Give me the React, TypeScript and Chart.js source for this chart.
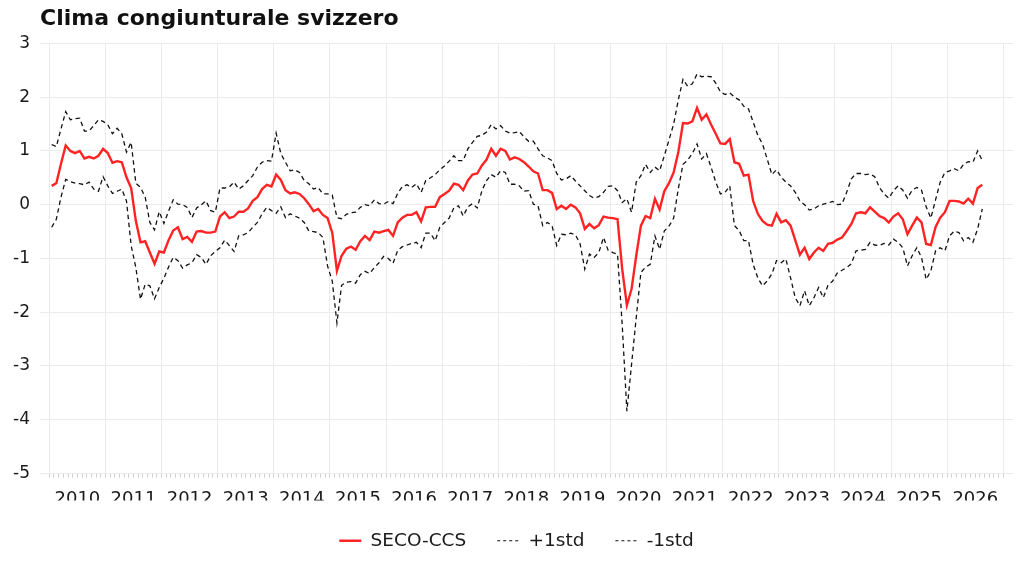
import React, { useEffect, useRef } from 'react';
import { Chart, registerables } from 'chart.js';

Chart.register(...registerables);

const FONT = "'DejaVu Sans', sans-serif";
const START_YEAR = 2010;

// monthly values, Jan 2010 .. Aug 2026
const secoCcs = [
  0.35, 0.40, 0.76, 1.10, 1.00, 0.96, 1.00, 0.86, 0.89, 0.86, 0.91, 1.04, // 2010
  0.96, 0.78, 0.81, 0.79, 0.51, 0.31, -0.30, -0.70, -0.68, -0.89, -1.10, -0.87, // 2011
  -0.89, -0.66, -0.48, -0.42, -0.64, -0.60, -0.69, -0.50, -0.49, -0.52, -0.52, -0.50, // 2012
  -0.22, -0.14, -0.25, -0.22, -0.13, -0.13, -0.07, 0.07, 0.14, 0.29, 0.37, 0.34, // 2013
  0.56, 0.46, 0.27, 0.21, 0.23, 0.20, 0.12, 0.01, -0.12, -0.08, -0.19, -0.25, // 2014
  -0.52, -1.23, -0.95, -0.82, -0.78, -0.84, -0.68, -0.58, -0.66, -0.50, -0.52, -0.49, // 2015
  -0.47, -0.58, -0.33, -0.24, -0.19, -0.19, -0.14, -0.31, -0.05, -0.04, -0.04, 0.14, // 2016
  0.20, 0.26, 0.39, 0.37, 0.27, 0.45, 0.56, 0.58, 0.73, 0.84, 1.04, 0.91, // 2017
  1.04, 1.00, 0.84, 0.88, 0.85, 0.79, 0.71, 0.62, 0.58, 0.27, 0.27, 0.22, // 2018
  -0.08, -0.02, -0.08, 0.00, -0.05, -0.16, -0.45, -0.36, -0.44, -0.38, -0.22, -0.24, // 2019
  -0.25, -0.27, -1.20, -1.87, -1.57, -0.95, -0.39, -0.21, -0.25, 0.11, -0.09, 0.25, // 2020
  0.40, 0.60, 0.98, 1.52, 1.51, 1.55, 1.80, 1.58, 1.68, 1.49, 1.32, 1.14, // 2021
  1.13, 1.22, 0.79, 0.76, 0.54, 0.56, 0.07, -0.17, -0.30, -0.37, -0.39, -0.17, // 2022
  -0.33, -0.29, -0.39, -0.66, -0.93, -0.80, -1.01, -0.89, -0.80, -0.86, -0.73, -0.71, // 2023
  -0.65, -0.61, -0.49, -0.36, -0.16, -0.14, -0.16, -0.05, -0.13, -0.21, -0.25, -0.33, // 2024
  -0.22, -0.16, -0.27, -0.55, -0.39, -0.24, -0.33, -0.73, -0.75, -0.42, -0.24, -0.14, // 2025
  0.07, 0.07, 0.06, 0.02, 0.11, 0.02, 0.31, 0.37, // 2026
];

const plusStd = [
  1.12, 1.08, 1.41, 1.73, 1.58, 1.60, 1.61, 1.37, 1.37, 1.47, 1.58, 1.55,
  1.49, 1.32, 1.42, 1.32, 0.98, 1.16, 0.40, 0.32, 0.14, -0.33, -0.47, -0.13,
  -0.35, -0.12, 0.09, 0.01, 0.00, -0.05, -0.24, -0.06, 0.00, 0.07, -0.11, -0.14,
  0.31, 0.31, 0.33, 0.42, 0.29, 0.35, 0.45, 0.54, 0.70, 0.79, 0.82, 0.81,
  1.33, 0.95, 0.79, 0.63, 0.65, 0.60, 0.45, 0.39, 0.29, 0.32, 0.20, 0.20,
  0.18, -0.24, -0.26, -0.18, -0.15, -0.14, -0.05, 0.00, -0.02, 0.09, 0.02, 0.01,
  0.06, 0.02, 0.21, 0.34, 0.37, 0.32, 0.39, 0.23, 0.45, 0.50, 0.56, 0.65,
  0.72, 0.81, 0.91, 0.82, 0.82, 1.04, 1.16, 1.27, 1.29, 1.35, 1.49, 1.41,
  1.47, 1.37, 1.33, 1.34, 1.36, 1.26, 1.18, 1.18, 1.04, 0.91, 0.87, 0.82,
  0.58, 0.46, 0.48, 0.54, 0.44, 0.35, 0.26, 0.17, 0.12, 0.15, 0.23, 0.34,
  0.35, 0.26, 0.04, 0.11, -0.14, 0.42, 0.54, 0.75, 0.60, 0.70, 0.63, 0.91,
  1.20, 1.50, 1.95, 2.33, 2.20, 2.25, 2.43, 2.38, 2.39, 2.38, 2.26, 2.10,
  2.05, 2.08, 2.00, 1.95, 1.83, 1.78, 1.54, 1.29, 1.13, 0.85, 0.56, 0.65,
  0.51, 0.42, 0.35, 0.23, 0.07, 0.00, -0.10, -0.08, -0.02, 0.01, 0.03, 0.06,
  0.00, 0.01, 0.23, 0.48, 0.58, 0.58, 0.56, 0.57, 0.52, 0.32, 0.20, 0.12,
  0.26, 0.35, 0.27, 0.12, 0.27, 0.32, 0.27, -0.04, -0.25, 0.09, 0.42, 0.60,
  0.63, 0.67, 0.63, 0.75, 0.80, 0.79, 1.00, 0.82,
];

const minusStd = [
  -0.42, -0.27, 0.14, 0.47, 0.43, 0.40, 0.39, 0.37, 0.42, 0.29, 0.25, 0.52,
  0.35, 0.21, 0.25, 0.29, 0.07, -0.76, -1.17, -1.76, -1.48, -1.51, -1.75, -1.54,
  -1.37, -1.16, -0.98, -1.04, -1.18, -1.12, -1.08, -0.93, -0.98, -1.11, -0.95, -0.87,
  -0.80, -0.66, -0.76, -0.87, -0.58, -0.56, -0.52, -0.42, -0.33, -0.17, -0.05, -0.11,
  -0.16, -0.04, -0.24, -0.17, -0.21, -0.25, -0.33, -0.49, -0.50, -0.52, -0.61, -1.14,
  -1.42, -2.20, -1.50, -1.44, -1.43, -1.46, -1.30, -1.24, -1.28, -1.17, -1.08, -0.96,
  -1.00, -1.09, -0.85, -0.78, -0.75, -0.72, -0.70, -0.80, -0.53, -0.53, -0.67, -0.42,
  -0.33, -0.25, -0.06, -0.02, -0.21, -0.04, 0.02, -0.06, 0.26, 0.45, 0.56, 0.51,
  0.63, 0.60, 0.38, 0.38, 0.35, 0.25, 0.26, 0.01, -0.02, -0.39, -0.33, -0.39,
  -0.76, -0.55, -0.56, -0.53, -0.56, -0.73, -1.20, -0.92, -0.98, -0.89, -0.61, -0.85,
  -0.89, -0.92, -2.23, -3.84, -2.97, -2.10, -1.26, -1.16, -1.11, -0.58, -0.83, -0.49,
  -0.40, -0.25, 0.30, 0.75, 0.83, 0.95, 1.13, 0.85, 0.95, 0.70, 0.42, 0.20,
  0.23, 0.35, -0.39, -0.48, -0.67, -0.67, -1.11, -1.36, -1.51, -1.42, -1.29, -1.04,
  -1.08, -1.01, -1.36, -1.73, -1.88, -1.60, -1.88, -1.73, -1.54, -1.73, -1.50, -1.42,
  -1.27, -1.22, -1.17, -1.10, -0.86, -0.85, -0.83, -0.70, -0.75, -0.76, -0.72, -0.75,
  -0.64, -0.70, -0.80, -1.14, -0.95, -0.80, -0.98, -1.39, -1.23, -0.86, -0.80, -0.86,
  -0.58, -0.49, -0.52, -0.67, -0.61, -0.70, -0.45, -0.08,
];

const yearLabels = [
  '2010', '2011', '2012', '2013', '2014', '2015', '2016', '2017', '2018',
  '2019', '2020', '2021', '2022', '2023', '2024', '2025', '2026',
];

// each point sits in the middle of its month
const monthX = secoCcs.map((_, i) => START_YEAR + (i + 0.5) / 12);
// monthly tick marks, Jan 2010 .. Jan 2027
const monthTicks = Array.from({ length: yearLabels.length * 12 + 1 }, (_, k) => START_YEAR + k / 12);

const toPoints = (values: number[]) => values.map((y, i) => ({ x: monthX[i], y }));
const monthIndex = (v: number) => Math.round((v - START_YEAR) * 12);

const DASH = [4.5, 3.5];

// nudge the legend a bit to the right, like in the original
const legendShift = {
  id: 'legendShift',
  afterLayout(chart: any) {
    if (chart.legend) {
      chart.legend.left += 10;
      chart.legend.right += 10;
    }
  },
};

const App: React.FC = () => {
  const chartRef = useRef<HTMLCanvasElement>(null);
  const chartInstance = useRef<Chart | null>(null);

  useEffect(() => {
    if (!chartRef.current) return;
    if (chartInstance.current) chartInstance.current.destroy();

    chartInstance.current = new Chart(chartRef.current, {
      type: 'line',
      data: {
        datasets: [
          {
            label: 'SECO-CCS',
            data: toPoints(secoCcs),
            borderColor: 'rgb(255, 35, 35)',
            backgroundColor: 'rgb(255, 35, 35)',
            borderWidth: 2.4,
            pointRadius: 0,
            tension: 0,
          },
          {
            label: '+1std',
            data: toPoints(plusStd),
            borderColor: '#111111',
            backgroundColor: '#111111',
            borderWidth: 1.3,
            borderDash: DASH,
            pointRadius: 0,
            tension: 0,
          },
          {
            label: '-1std',
            data: toPoints(minusStd),
            borderColor: '#111111',
            backgroundColor: '#111111',
            borderWidth: 1.3,
            borderDash: DASH,
            pointRadius: 0,
            tension: 0,
          },
        ],
      },
      plugins: [legendShift],
      options: {
        responsive: true,
        maintainAspectRatio: false,
        animation: false,
        layout: { padding: { left: 0, right: 11, top: 0, bottom: 16 } },
        plugins: {
          title: {
            display: true,
            text: 'Clima congiunturale svizzero',
            align: 'start',
            fullSize: false,
            color: '#111111',
            font: { family: FONT, size: 22, weight: 'bold' },
            padding: { top: 6, bottom: 11 },
          },
          legend: {
            position: 'bottom',
            labels: {
              usePointStyle: true,
              pointStyle: 'line',
              pointStyleWidth: 22,
              padding: 31,
              color: '#1a1a1a',
              font: { family: FONT, size: 18.5 },
              generateLabels: (chart: any) =>
                Chart.defaults.plugins.legend.labels.generateLabels(chart).map((item: any) => {
                  const ds: any = chart.data.datasets[item.datasetIndex];
                  return {
                    ...item,
                    pointStyle: 'line',
                    strokeStyle: ds.borderColor,
                    lineWidth: ds.borderDash ? 1 : 2.4,
                    lineDash: ds.borderDash ? [3, 3] : [],
                  };
                }),
            },
          },
          tooltip: { enabled: false },
        },
        scales: {
          x: {
            type: 'linear',
            min: 2009.834,
            max: 2027.172,
            afterBuildTicks: (scale: any) => {
              scale.ticks = monthTicks.map((value) => ({ value }));
            },
            afterFit: (scale: any) => {
              scale.height = 27;
            },
            border: { display: false },
            grid: {
              color: (ctx: any) =>
                ctx.tick && monthIndex(ctx.tick.value) % 12 === 0 ? '#ebebeb' : 'rgba(0,0,0,0)',
              lineWidth: 1,
              drawTicks: true,
              tickLength: 4,
              tickColor: '#cfcfcf',
              tickWidth: 1,
            },
            ticks: {
              autoSkip: false,
              maxRotation: 0,
              minRotation: 0,
              padding: 11,
              color: '#1a1a1a',
              font: { family: FONT, size: 18 },
              callback: (value: any) => {
                const k = monthIndex(Number(value));
                return k % 12 === 6 ? yearLabels[(k - 6) / 12] ?? '' : '';
              },
            },
          },
          y: {
            min: -5,
            max: 3,
            afterFit: (scale: any) => {
              scale.width = 40;
            },
            border: { display: false },
            grid: { color: '#ebebeb', lineWidth: 1, drawTicks: false },
            ticks: {
              stepSize: 1,
              padding: 10,
              color: '#1a1a1a',
              font: { family: FONT, size: 17 },
              callback: (value: any) => String(value),
            },
          },
        },
      },
    });

    return () => {
      if (chartInstance.current) {
        chartInstance.current.destroy();
        chartInstance.current = null;
      }
    };
  }, []);

  return (
    <div style={{ position: 'fixed', left: 0, top: 0, width: 1024, height: 576, background: '#ffffff' }}>
      <canvas ref={chartRef} style={{ display: 'block' }} />
    </div>
  );
};

export default App;
